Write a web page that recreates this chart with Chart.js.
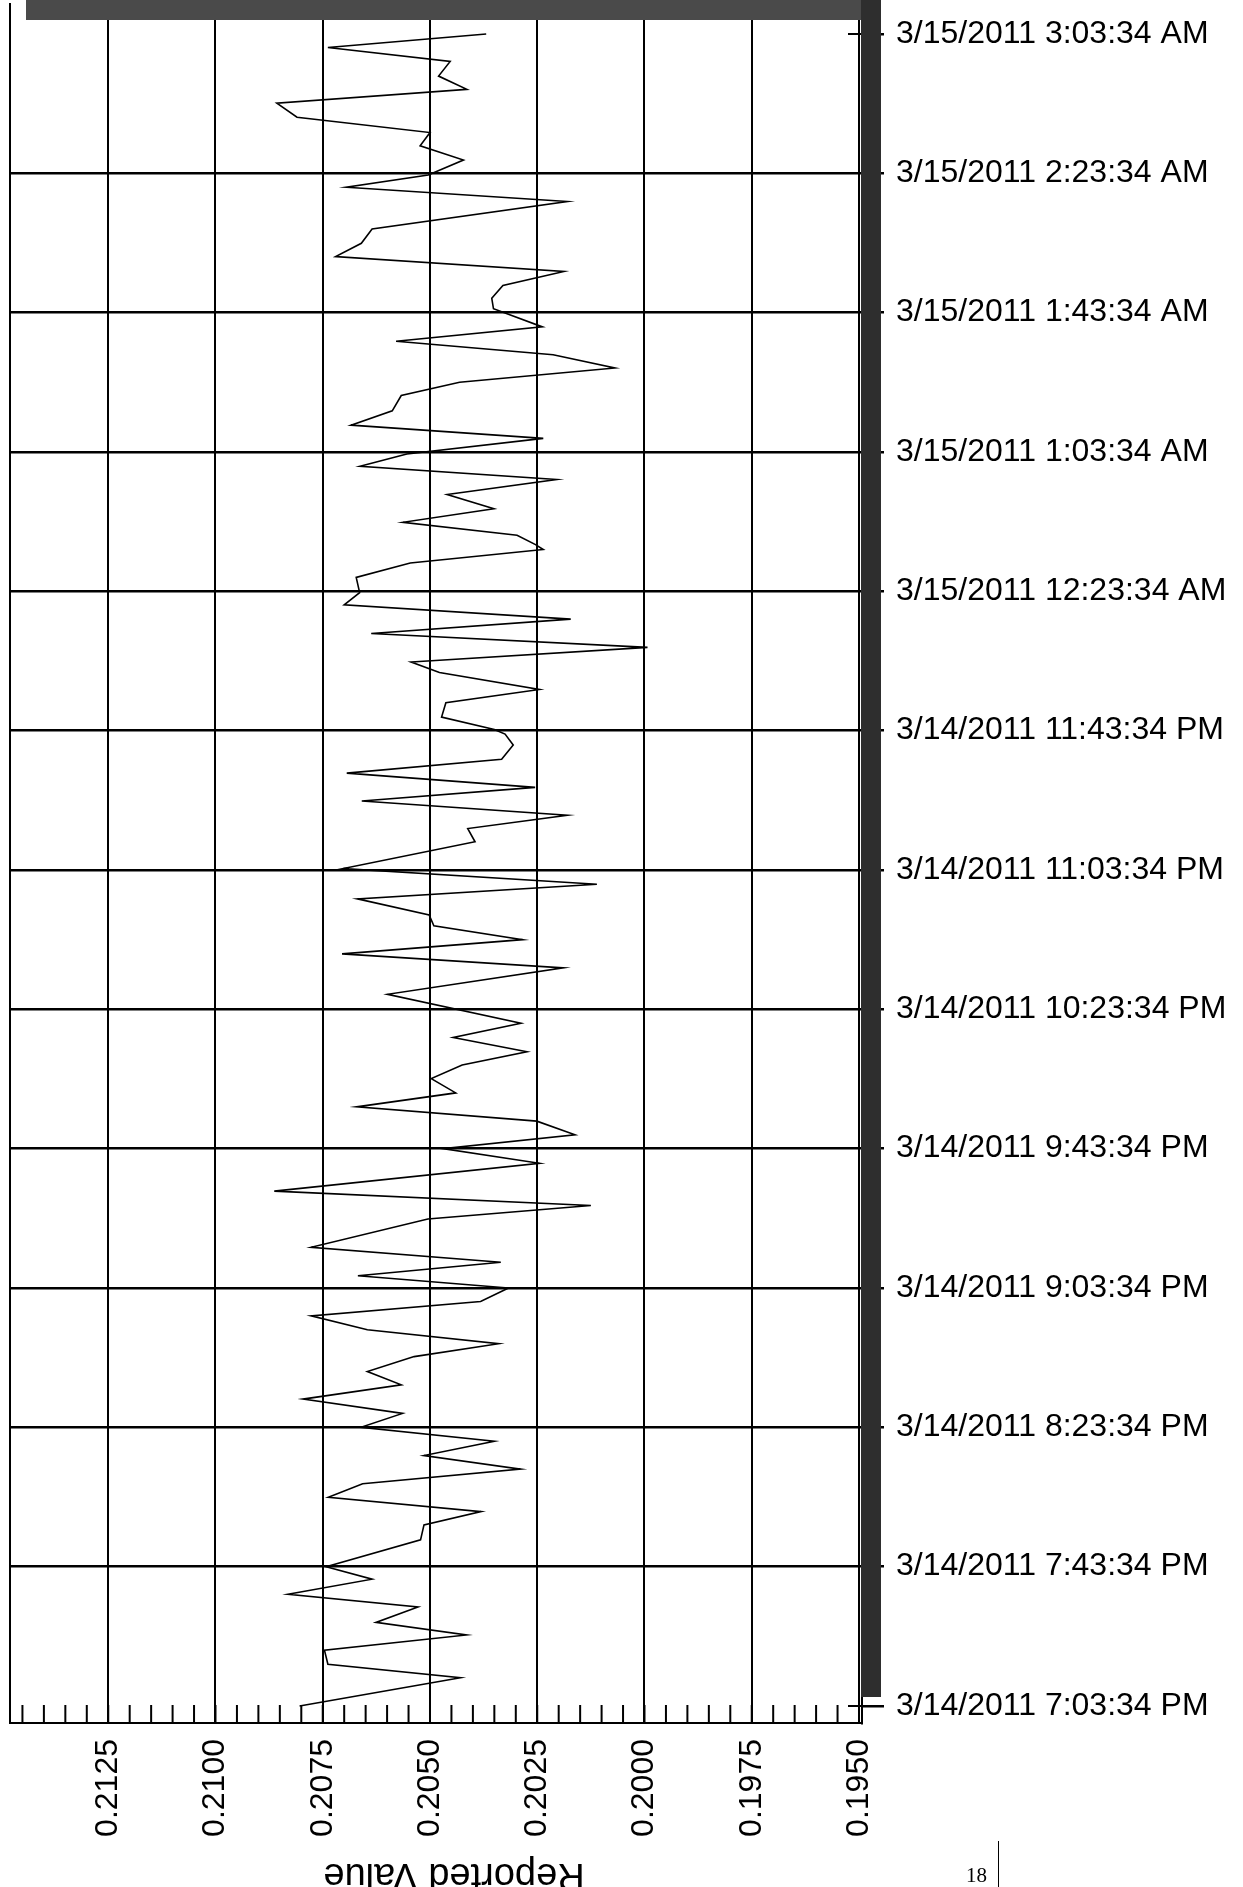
<!DOCTYPE html>
<html>
<head>
<meta charset="utf-8">
<script src="https://cdn.jsdelivr.net/npm/chart.js@4/dist/chart.umd.min.js"></script>
<style>
  body { margin: 0; background: #fff; }
  #wrap { position: relative; width: 1243px; height: 1887px; overflow: hidden; }
  #pageNo { position: absolute; left: 966px; top: 1863px; font: 21px 'Liberation Serif', 'Times New Roman', serif; color: #000; }
  #pageRule { position: absolute; left: 998px; top: 1841px; width: 1px; height: 46px; background: #000; }
</style>
</head>
<body>
<div id="wrap">
  <canvas id="trend" width="1243" height="1887"></canvas>
  <div id="pageNo">18</div>
  <div id="pageRule"></div>
</div>
<script>
// minutes after 3/14/2011 7:03:34 PM
const minutes = [
  0, 8.1, 12.0, 16.0, 20.4, 24.0, 28.4, 32.1, 36.4, 40.0,
  47.7, 52.0, 55.8, 59.9, 63.8, 68.0, 71.9, 76.0, 80.0, 84.0,
  88.1, 92.2, 96.0, 100.3, 104.0, 108.0, 112.0, 116.1, 120.0, 123.5,
  127.4, 131.7, 139.8, 143.7, 147.8, 155.8, 160.0, 164.0, 167.9, 172.0,
  176.0, 180.1, 184.0, 187.8, 191.9, 196.0, 204.3, 211.9, 215.9, 220.0,
  224.0, 227.1, 231.7, 235.9, 240.4, 248.1, 251.9, 255.7, 259.8, 263.7,
  267.8, 271.8, 275.9, 279.0, 280.3, 283.9, 288.0, 291.8, 296.7, 299.7,
  303.9, 307.9, 312.0, 316.1, 319.6, 324.0, 328.1, 332.0, 333.4, 336.1,
  339.8, 343.7, 347.8, 352.1, 355.9, 359.4, 363.9, 367.7, 371.8, 376.2,
  380.0, 384.1, 387.9, 391.8, 395.9, 401.1, 404.1, 407.8, 411.8, 416.1,
  419.9, 424.0, 431.9, 436.0, 439.5, 443.8, 447.9, 451.7, 456.1, 460.1,
  464.1, 467.9, 472.1, 476.1, 480.0
];
const reportedValues = [
  0.20804, 0.20429, 0.20738, 0.20746, 0.20415, 0.20626, 0.20528, 0.20831, 0.20635, 0.20742,
  0.20522, 0.20514, 0.20381, 0.20737, 0.20657, 0.20289, 0.20514, 0.20350, 0.20661, 0.20564,
  0.20796, 0.20567, 0.20646, 0.20537, 0.20340, 0.20646, 0.20777, 0.20382, 0.20317, 0.20668,
  0.20335, 0.20777, 0.20505, 0.20125, 0.20863, 0.20245, 0.20470, 0.20162, 0.20251, 0.20671,
  0.20440, 0.20497, 0.20425, 0.20274, 0.20446, 0.20288, 0.20599, 0.20189, 0.20705, 0.20284,
  0.20491, 0.20502, 0.20669, 0.20111, 0.20702, 0.20395, 0.20412, 0.20180, 0.20659, 0.20255,
  0.20694, 0.20333, 0.20306, 0.20325, 0.20350, 0.20473, 0.20463, 0.20245, 0.20478, 0.20544,
  0.19993, 0.20637, 0.20172, 0.20700, 0.20664, 0.20672, 0.20546, 0.20236, 0.20254, 0.20297,
  0.20563, 0.20351, 0.20460, 0.20205, 0.20663, 0.20554, 0.20236, 0.20684, 0.20588, 0.20567,
  0.20431, 0.20069, 0.20213, 0.20579, 0.20238, 0.20352, 0.20356, 0.20330, 0.20188, 0.20720,
  0.20660, 0.20635, 0.20180, 0.20695, 0.20504, 0.20422, 0.20523, 0.20500, 0.20810, 0.20857,
  0.20414, 0.20480, 0.20453, 0.20738, 0.20369
];

const timeTicks = [0, 40, 80, 120, 160, 200, 240, 280, 320, 360, 400, 440, 480];
const timeLabels = [
  '3/14/2011 7:03:34 PM', '3/14/2011 7:43:34 PM', '3/14/2011 8:23:34 PM',
  '3/14/2011 9:03:34 PM', '3/14/2011 9:43:34 PM', '3/14/2011 10:23:34 PM',
  '3/14/2011 11:03:34 PM', '3/14/2011 11:43:34 PM', '3/15/2011 12:23:34 AM',
  '3/15/2011 1:03:34 AM', '3/15/2011 1:43:34 AM', '3/15/2011 2:23:34 AM',
  '3/15/2011 3:03:34 AM'
];
const valueLabels = ['0.2125', '0.2100', '0.2075', '0.2050', '0.2025', '0.2000', '0.1975', '0.1950'];
const axisTitle = 'Reported Value';

const labelFont = { family: "'Liberation Sans', Arial, sans-serif", size: 32 };

const points = minutes.map((m, i) => ({ x: reportedValues[i], y: m }));

// scan-style frame: left rule, inner minor ticks, shadow bands, upside-down title
const frame = {
  id: 'frame',
  beforeDraw(chart) {
    const ctx = chart.ctx;
    ctx.save();
    ctx.fillStyle = '#fff';
    ctx.fillRect(0, 0, chart.width, chart.height);
    ctx.restore();
  },
  afterDraw(chart) {
    const { ctx, chartArea: a, scales } = chart;
    ctx.save();
    ctx.strokeStyle = '#000';
    ctx.lineWidth = 2;
    ctx.beginPath();
    ctx.moveTo(a.left, 3);
    ctx.lineTo(a.left, a.bottom);
    scales.x.ticks.forEach(t => {
      const px = scales.x.getPixelForValue(t.value);
      ctx.moveTo(px, a.bottom);
      ctx.lineTo(px, a.bottom - 18);
    });
    [timeTicks[0], timeTicks[timeTicks.length - 1]].forEach(v => {
      const py = scales.y.getPixelForValue(v);
      ctx.moveTo(a.right - 14, py);
      ctx.lineTo(a.right, py);
    });
    ctx.stroke();

    ctx.fillStyle = '#4a4a4a';
    ctx.fillRect(a.left + 16, 0, a.right + 19 - (a.left + 16), a.top);
    ctx.fillStyle = '#2e2e2e';
    ctx.fillRect(a.right - 1, 0, 20, a.bottom - 26);

    ctx.translate((a.left + a.right) / 2 + 18, 1864);
    ctx.rotate(Math.PI);
    ctx.fillStyle = '#000';
    ctx.font = "38px 'Liberation Sans', Arial, sans-serif";
    ctx.textAlign = 'center';
    ctx.textBaseline = 'alphabetic';
    ctx.fillText(axisTitle, 0, 0);
    ctx.restore();
  }
};

new Chart(document.getElementById('trend'), {
  type: 'scatter',
  data: {
    datasets: [{
      data: points,
      showLine: true,
      borderColor: '#000',
      borderWidth: 1.6,
      pointRadius: 0,
      tension: 0
    }]
  },
  options: {
    responsive: false,
    animation: false,
    devicePixelRatio: 1,
    layout: { padding: { left: 10, top: 20, right: 0, bottom: 0 } },
    plugins: { legend: { display: false }, tooltip: { enabled: false } },
    scales: {
      x: {
        type: 'linear',
        position: 'bottom',
        reverse: true,
        min: 0.19493,
        max: 0.21479,
        afterBuildTicks: s => {
          const ticks = [];
          for (let i = 0; i < 40; i++) ticks.push({ value: (1950 + 5 * i) / 10000 });
          s.ticks = ticks;
        },
        afterFit: s => { s.height = 164; s.paddingLeft = 0; s.paddingRight = 0; },
        grid: {
          color: c => (c.tick && valueLabels.includes(c.tick.value.toFixed(4))) ? '#000' : 'rgba(0,0,0,0)',
          lineWidth: 2,
          drawTicks: false
        },
        border: { display: true, color: '#000', width: 2 },
        ticks: {
          autoSkip: false,
          minRotation: 90,
          maxRotation: 90,
          padding: 16,
          color: '#000',
          font: labelFont,
          callback: v => {
            const s = Number(v).toFixed(4);
            return valueLabels.includes(s) ? s : '';
          }
        }
      },
      y: {
        type: 'linear',
        position: 'right',
        min: -4.88,
        max: 484.0,
        afterBuildTicks: s => { s.ticks = timeTicks.map(v => ({ value: v })); },
        afterFit: s => { s.width = 381; s.paddingTop = 0; s.paddingBottom = 0; },
        grid: {
          color: c => (c.tick && (c.tick.value === timeTicks[0] || c.tick.value === timeTicks[timeTicks.length - 1])) ? 'rgba(0,0,0,0)' : '#000',
          tickColor: '#000',
          lineWidth: 2.5,
          tickLength: 22
        },
        border: { display: true, color: '#000', width: 2 },
        ticks: {
          autoSkip: false,
          padding: 12,
          color: '#000',
          font: labelFont,
          callback: v => {
            const i = timeTicks.indexOf(v);
            return i >= 0 ? timeLabels[i] : '';
          }
        }
      }
    }
  },
  plugins: [frame]
});
</script>
</body>
</html>
